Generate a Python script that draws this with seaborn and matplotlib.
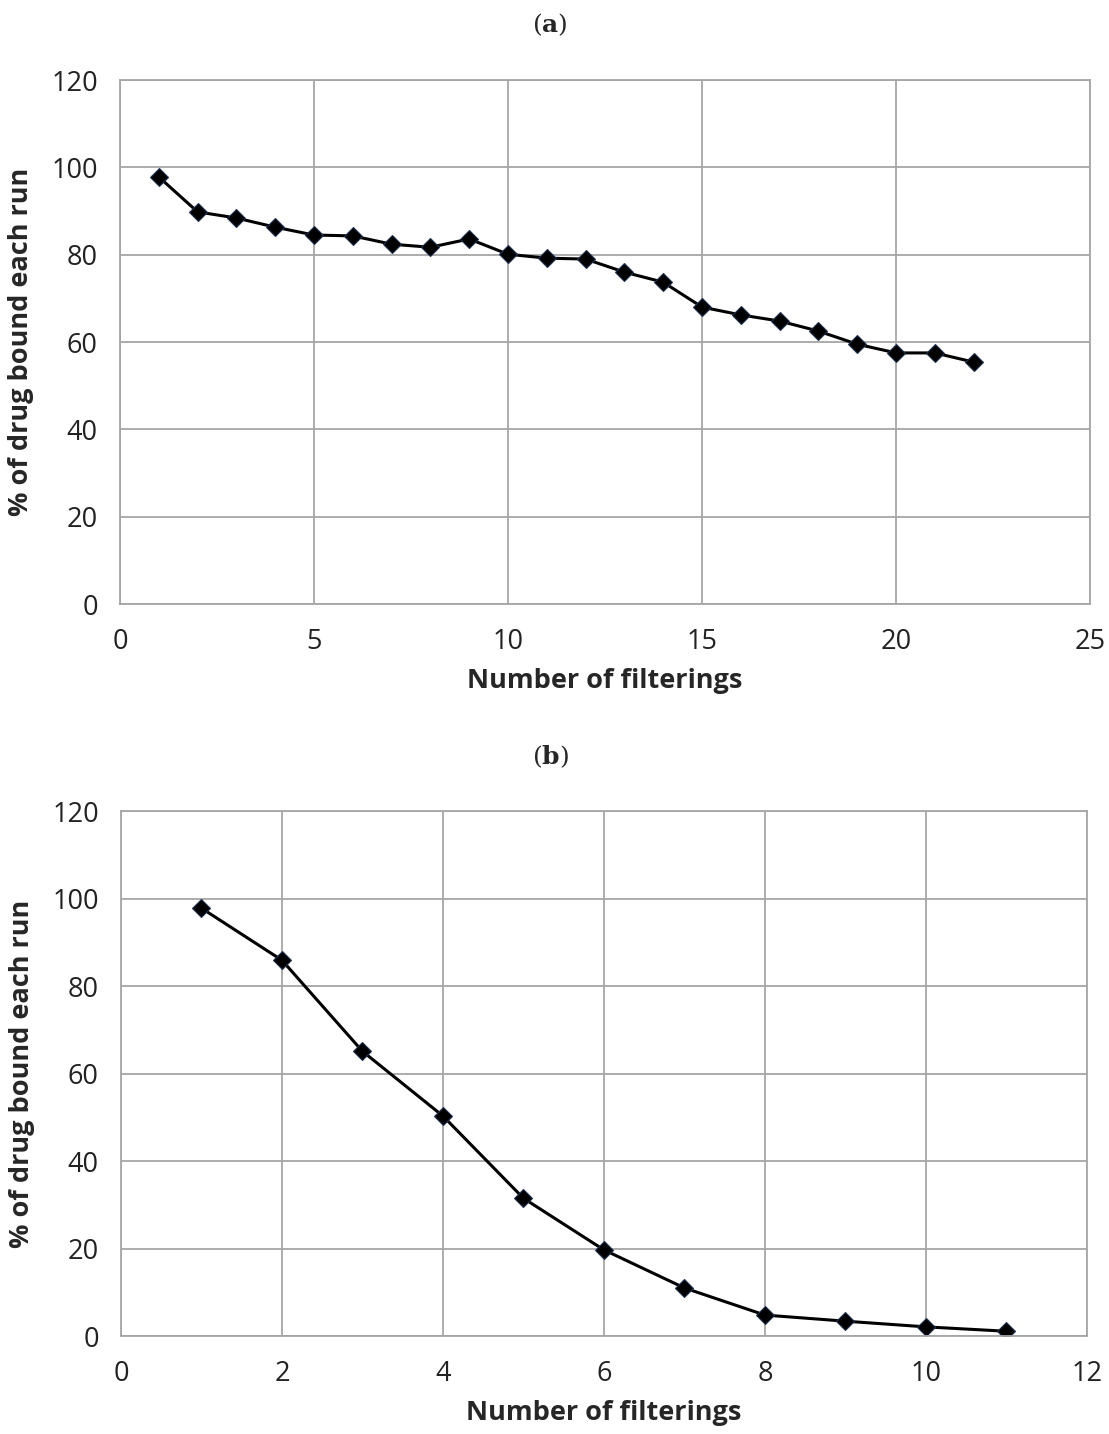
import numpy as np
import pandas as pd
import matplotlib
matplotlib.use("Agg")
import matplotlib.pyplot as plt
import seaborn as sns

# panel (a): 22 filterings
filt_a = list(range(1, 23))
bound_a = [97.8, 89.8, 88.4, 86.3, 84.5, 84.3, 82.4, 81.7, 83.6, 80.1, 79.2,
           79.0, 76.0, 73.7, 68.0, 66.2, 64.8, 62.5, 59.5, 57.5, 57.5, 55.4]

# panel (b): 11 filterings
filt_b = list(range(1, 12))
bound_b = [97.8, 85.9, 65.1, 50.3, 31.5, 19.7, 11.0, 4.8, 3.4, 2.1, 1.1]

df_a = pd.DataFrame({'Number of filterings': filt_a, 'bound': bound_a})
df_b = pd.DataFrame({'Number of filterings': filt_b, 'bound': bound_b})

sns.set_style('white')
plt.rcParams['font.family'] = ['Open Sans', 'DejaVu Sans']
plt.rcParams['mathtext.fontset'] = 'dejavuserif'

grid_c = '#a6a6a6'
fig = plt.figure(figsize=(11.09, 14.34), dpi=100)
ax1 = fig.add_axes([0.1082, 0.5788, 0.8747, 0.3654])
ax2 = fig.add_axes([0.1091, 0.0683, 0.8709, 0.3661])

panels = [(ax1, df_a, 25, 5, '(a)', 0.983), (ax2, df_b, 12, 2, '(b)', 0.472)]
for ax, d, xmax, xstep, lab, ty in panels:
    sns.lineplot(data=d, x='Number of filterings', y='bound', ax=ax, color='black',
                 linewidth=2.2, marker='D', markersize=9, markerfacecolor='black',
                 markeredgecolor='#1f3050', markeredgewidth=0.8)
    ax.set_xlim(0, xmax)
    ax.set_ylim(0, 120)
    ax.set_xticks(np.arange(0, xmax + 1, xstep))
    ax.set_yticks(np.arange(0, 121, 20))
    ax.grid(True, color=grid_c, linewidth=1.3)
    ax.set_axisbelow(True)
    for s in ax.spines.values():
        s.set_color(grid_c)
        s.set_linewidth(1.3)
    ax.tick_params(axis='both', length=0, labelsize=19.5, colors='#222222')
    ax.tick_params(axis='y', pad=16)
    ax.tick_params(axis='x', pad=17)
    ax.set_xlabel('Number of filterings', fontsize=19.5, fontweight='bold', labelpad=9)
    ax.set_ylabel('% of drug bound each run', fontsize=19.5, fontweight='bold', labelpad=12)
    fig.text(0.496, ty, r'($\mathbf{' + lab[1] + r'}$)', ha='center', va='center',
             fontsize=18, family='DejaVu Serif')

fig.savefig('out.png', dpi=100, facecolor='white')
